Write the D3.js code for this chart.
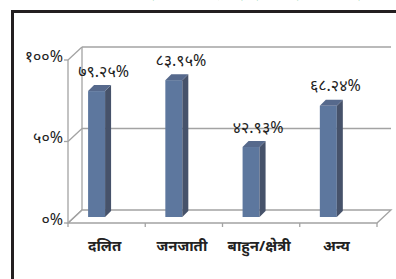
<!DOCTYPE html>
<html><head><meta charset="utf-8">
<script src="https://cdn.jsdelivr.net/npm/d3@7/dist/d3.min.js"></script>
<style>
html,body{margin:0;padding:0;background:#fff;overflow:hidden}
svg{display:block}
</style></head>
<body>
<script>
const categories = ["दलित", "जनजाती", "बाहुन/क्षेत्री", "अन्य"];
const values = [77.25, 83.95, 42.93, 68.24];
const valueLabels = ["७९.२५%", "८३.९५%", "४२.९३%", "६८.२४%"];
const tickValues = [0, 50, 100];
const tickLabels = ["०%", "५०%", "१००%"];
const titleText = "जातीय आधारमा प्रतिनिधित्वको अवस्था";

const W = 396, H = 279;
const svg = d3.select("body").append("svg").attr("width", W).attr("height", H);

const DX = 14, DY = -13;
const front = {x0: 68, x1: 377, y0: 223, y1: 60};

const x = d3.scaleBand().domain(categories).range([front.x0, front.x1]).padding(0);
const yFront = d3.scaleLinear().domain([0, 100]).range([front.y0, front.y1]);
const yBack = d3.scaleLinear().domain([0, 100]).range([front.y0 + DY, front.y1 + DY]);
const yMid = d3.scaleLinear().domain([0, 100]).range([front.y0 - 6, front.y1 - 6]);

// title (cut off at top, as in the source)
svg.append("text").attr("x", 255).attr("y", 0).attr("text-anchor", "middle")
  .attr("font-family", "'Noto Sans', sans-serif").attr("font-size", 16).attr("font-weight", "bold")
  .attr("fill", "#00a651").text(titleText);

// frame
svg.append("rect").attr("x", 12.5).attr("y", 11.5).attr("width", 420).attr("height", 300)
  .attr("fill", "none").attr("stroke", "#231f20").attr("stroke-width", 3);

const gridColor = "#a3a3a3";
const g = svg.append("g");

tickValues.forEach(t => {
  const yb = yBack(t), yf = yFront(t);
  if (t > 0) {
    g.append("line").attr("x1", front.x0 + DX).attr("x2", front.x1 + DX)
      .attr("y1", yb).attr("y2", yb).attr("stroke", gridColor).attr("stroke-width", 1.3);
  }
  g.append("line").attr("x1", front.x0).attr("y1", yf).attr("x2", front.x0 + DX).attr("y2", yb)
    .attr("stroke", gridColor).attr("stroke-width", 1.3);
  g.append("line").attr("x1", front.x0 - 4).attr("x2", front.x0).attr("y1", yf).attr("y2", yf)
    .attr("stroke", gridColor).attr("stroke-width", 1.3);
});
g.append("line").attr("x1", front.x0 + DX).attr("x2", front.x0 + DX)
  .attr("y1", yBack(0)).attr("y2", yBack(100)).attr("stroke", gridColor).attr("stroke-width", 1.3);
g.append("line").attr("x1", front.x0).attr("x2", front.x0)
  .attr("y1", yFront(0)).attr("y2", yFront(100)).attr("stroke", gridColor).attr("stroke-width", 1.3);
g.append("path").attr("d", `M${front.x0},${yFront(0)}L${front.x1},${yFront(0)}L${front.x1 + DX},${yBack(0)}L${front.x0 + DX},${yBack(0)}Z`)
  .attr("fill", "none").attr("stroke", gridColor).attr("stroke-width", 1.3);
categories.concat(["end"]).forEach((c, i) => {
  const xx = i < categories.length ? x(c) : front.x1;
  g.append("line").attr("x1", xx).attr("x2", xx).attr("y1", yFront(0)).attr("y2", yFront(0) + 4)
    .attr("stroke", gridColor).attr("stroke-width", 1.3);
});

tickValues.forEach((t, i) => {
  svg.append("text").attr("x", 63).attr("y", yFront(t)).attr("dy", "0.1em")
    .attr("text-anchor", "end").attr("font-family", "'Noto Sans', sans-serif")
    .attr("font-size", 16).attr("fill", "#222").text(tickLabels[i]);
});

const bw = x.bandwidth() * 0.22;
const sd = 6;
const bars = svg.append("g");
categories.forEach((c, i) => {
  const bx = x(c) + x.bandwidth() * 0.26;
  const top = yMid(values[i]);
  const bot = yMid(0);
  bars.append("rect").attr("x", bx).attr("y", top).attr("width", bw).attr("height", bot - top)
    .attr("fill", "#5d779e");
  bars.append("path").attr("d", `M${bx + bw},${top}L${bx + bw + sd},${top - sd}L${bx + bw + sd},${bot - sd}L${bx + bw},${bot}Z`)
    .attr("fill", "#46526a");
  bars.append("path").attr("d", `M${bx},${top}L${bx + sd},${top - sd}L${bx + bw + sd},${top - sd}L${bx + bw},${top}Z`)
    .attr("fill", "#56698c");
  svg.append("text").attr("x", x(c) + x.bandwidth() / 2 - 3).attr("y", top - 20).attr("dy", "0.35em")
    .attr("text-anchor", "middle").attr("font-family", "'Noto Sans', sans-serif")
    .attr("font-size", 16).attr("fill", "#222").text(valueLabels[i]);
  svg.append("text").attr("x", x(c) + x.bandwidth() / 2 - 2).attr("y", 251)
    .attr("text-anchor", "middle").attr("font-family", "'Noto Sans', sans-serif")
    .attr("font-size", 15).attr("font-weight", "bold").attr("fill", "#222").text(c);
});
</script>
</body></html>
